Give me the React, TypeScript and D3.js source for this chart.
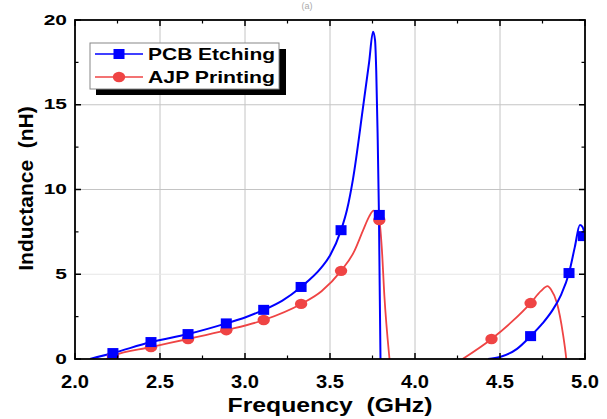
import * as d3 from 'd3'

const W = 607
const H = 419
const M = { left: 75, right: 22, top: 20, bottom: 60 }

// marker points (GHz, nH)
const pcbFreq = [2.223, 2.447, 2.665, 2.89, 3.11, 3.33, 3.565, 3.79, 4.68, 4.906, 4.99]
const pcbL = [0.35, 1.0, 1.47, 2.1, 2.9, 4.25, 7.6, 8.5, 1.35, 5.07, 7.25]
const ajpFreq = [2.223, 2.447, 2.665, 2.89, 3.11, 3.33, 3.565, 3.79, 4.45, 4.68]
const ajpL = [0.18, 0.7, 1.18, 1.7, 2.3, 3.25, 5.2, 8.2, 1.18, 3.3]

// continuous traces, NaN splits the segments
const pcbCurveF = [2.088, 2.223, 2.447, 2.665, 2.89, 3.0, 3.11, 3.22, 3.33, 3.45, 3.5, 3.565, 3.6, 3.635, 3.695, 3.73, 3.753, 3.765, 3.772, 3.78, 3.788, 3.797, 3.805,
  NaN, 4.43, 4.5, 4.6, 4.68, 4.75, 4.81, 4.86, 4.906, 4.94, 4.97, 4.985, 5.0]
const pcbCurveL = [0, 0.35, 1.0, 1.47, 2.1, 2.45, 2.9, 3.45, 4.25, 5.4, 6.1, 7.6, 8.8, 10.6, 14.9, 17.5, 19.3, 18.8, 17.0, 13.3, 8.5, 0, -2,
  NaN, 0, 0.12, 0.6, 1.35, 2.1, 2.9, 3.8, 5.07, 6.6, 7.9, 7.8, 7.3]
const ajpCurveF = [2.185, 2.223, 2.447, 2.665, 2.89, 3.11, 3.33, 3.45, 3.565, 3.64, 3.695, 3.73, 3.757, 3.775, 3.79, 3.805, 3.82, 3.85, 3.86,
  NaN, 4.28, 4.45, 4.57, 4.68, 4.74, 4.78, 4.8, 4.835, 4.87, 4.89, 4.895]
const ajpCurveL = [0, 0.18, 0.7, 1.18, 1.7, 2.3, 3.25, 4.0, 5.2, 6.3, 7.6, 8.4, 8.75, 8.6, 8.2, 6.5, 3.7, 0, -1,
  NaN, 0, 1.18, 2.2, 3.3, 4.0, 4.3, 4.1, 3.3, 1.5, 0, -0.5]

const xTicks = [2.0, 2.5, 3.0, 3.5, 4.0, 4.5, 5.0]
const yTicks = [0, 5, 10, 15, 20]

const BLUE = '#0000ff'
const RED = '#ef4444'
const FONT = '"Liberation Sans", Arial, sans-serif'

export default function App() {
  const x0 = M.left, x1 = W - M.right, y0 = M.top, y1 = H - M.bottom
  const x = d3.scaleLinear().domain([2, 5]).range([x0, x1])
  const y = d3.scaleLinear().domain([0, 20]).range([y1, y0])

  const line = d3.line<[number, number]>()
    .defined(d => !isNaN(d[0]))
    .x(d => x(d[0]))
    .y(d => y(d[1]))
    .curve(d3.curveMonotoneX)

  const pcbPath = line(pcbCurveF.map((f, i) => [f, pcbCurveL[i]]))
  const ajpPath = line(ajpCurveF.map((f, i) => [f, ajpCurveL[i]]))

  const xMinor = d3.range(2.25, 5, 0.5)
  const yMinor = d3.range(2.5, 20, 5)

  return (
    <svg width={W} height={H} style={{ position: 'absolute', left: 0, top: 0, background: '#fff' }}
      fontFamily={FONT} fontWeight="bold">
      <defs>
        <clipPath id="plot"><rect x={x0} y={y0} width={x1 - x0} height={y1 - y0} /></clipPath>
      </defs>

      <text x={307} y={9} textAnchor="middle" fontSize={9} fontWeight="normal" fill="#aaa">(a)</text>

      {/* grid */}
      {xTicks.slice(1, -1).map(t => (
        <line key={'gx' + t} x1={x(t)} x2={x(t)} y1={y0} y2={y1} stroke="#c4c4c4" strokeWidth={1} />
      ))}
      {yTicks.slice(1, -1).map(t => (
        <line key={'gy' + t} x1={x0} x2={x1} y1={y(t)} y2={y(t)} stroke={t === 5 ? '#e6e6e6' : '#c4c4c4'} strokeWidth={1} />
      ))}

      {/* traces */}
      <g clipPath="url(#plot)">
        <path d={ajpPath || ''} fill="none" stroke={RED} strokeWidth={1.8} />
        <path d={pcbPath || ''} fill="none" stroke={BLUE} strokeWidth={2} />
        {ajpFreq.map((f, i) => (
          <ellipse key={'a' + i} cx={x(f)} cy={y(ajpL[i])} rx={6.2} ry={5.2} fill={RED} />
        ))}
        {pcbFreq.map((f, i) => (
          <rect key={'p' + i} x={x(f) - 5.5} y={y(pcbL[i]) - 5} width={11} height={10} fill={BLUE} />
        ))}
      </g>

      {/* ticks, inward on all sides */}
      {xTicks.map(t => (
        <g key={'tx' + t} stroke="#000" strokeWidth={1.5}>
          <line x1={x(t)} x2={x(t)} y1={y1} y2={y1 - 6} />
          <line x1={x(t)} x2={x(t)} y1={y0} y2={y0 + 6} />
        </g>
      ))}
      {xMinor.map(t => (
        <g key={'mx' + t} stroke="#000" strokeWidth={1.2}>
          <line x1={x(t)} x2={x(t)} y1={y1} y2={y1 - 3.5} />
          <line x1={x(t)} x2={x(t)} y1={y0} y2={y0 + 3.5} />
        </g>
      ))}
      {yTicks.map(t => (
        <g key={'ty' + t} stroke="#000" strokeWidth={1.5}>
          <line x1={x0} x2={x0 + 6} y1={y(t)} y2={y(t)} />
          <line x1={x1} x2={x1 - 6} y1={y(t)} y2={y(t)} />
        </g>
      ))}
      {yMinor.map(t => (
        <g key={'my' + t} stroke="#000" strokeWidth={1.2}>
          <line x1={x0} x2={x0 + 3.5} y1={y(t)} y2={y(t)} />
          <line x1={x1} x2={x1 - 3.5} y1={y(t)} y2={y(t)} />
        </g>
      ))}
      <rect x={x0} y={y0} width={x1 - x0} height={y1 - y0} fill="none" stroke="#000" strokeWidth={1.8} />

      {/* tick labels */}
      {xTicks.map(t => (
        <text key={'lx' + t} transform={`translate(${x(t)},${y1 + 29}) scale(1.15,1)`} textAnchor="middle" fontSize={17.5}>
          {t.toFixed(1)}
        </text>
      ))}
      {yTicks.map(t => (
        <text key={'ly' + t} transform={`translate(${x0 - 8},${y(t) + 4.5}) scale(1.35,1)`} textAnchor="end" fontSize={15.5}>
          {t}
        </text>
      ))}

      {/* axis titles */}
      <text x={(x0 + x1) / 2} y={412} textAnchor="middle" fontSize={21} textLength={205} lengthAdjust="spacingAndGlyphs"
        style={{ whiteSpace: 'pre' }}>
        {'Frequency  (GHz)'}
      </text>
      <text transform={`translate(33,${(y0 + y1) / 2 - 1}) rotate(-90)`} textAnchor="middle" fontSize={21} style={{ whiteSpace: 'pre' }}>
        {'Inductance  (nH)'}
      </text>

      {/* legend */}
      <rect x={96} y={49} width={190} height={46} fill="#000" />
      <rect x={90} y={43} width={189} height={46} fill="#fff" stroke="#888" strokeWidth={1} />
      <line x1={95} x2={143} y1={54} y2={54} stroke={BLUE} strokeWidth={1.5} />
      <rect x={113.5} y={49} width={11} height={10} fill={BLUE} />
      <text x={148} y={60} fontSize={16.5} textLength={127} lengthAdjust="spacingAndGlyphs">PCB Etching</text>
      <line x1={95} x2={143} y1={77} y2={77} stroke={RED} strokeWidth={1.5} />
      <ellipse cx={119} cy={77} rx={6.2} ry={5.2} fill={RED} />
      <text x={148} y={83} fontSize={16.5} textLength={127} lengthAdjust="spacingAndGlyphs">AJP Printing</text>
    </svg>
  )
}
